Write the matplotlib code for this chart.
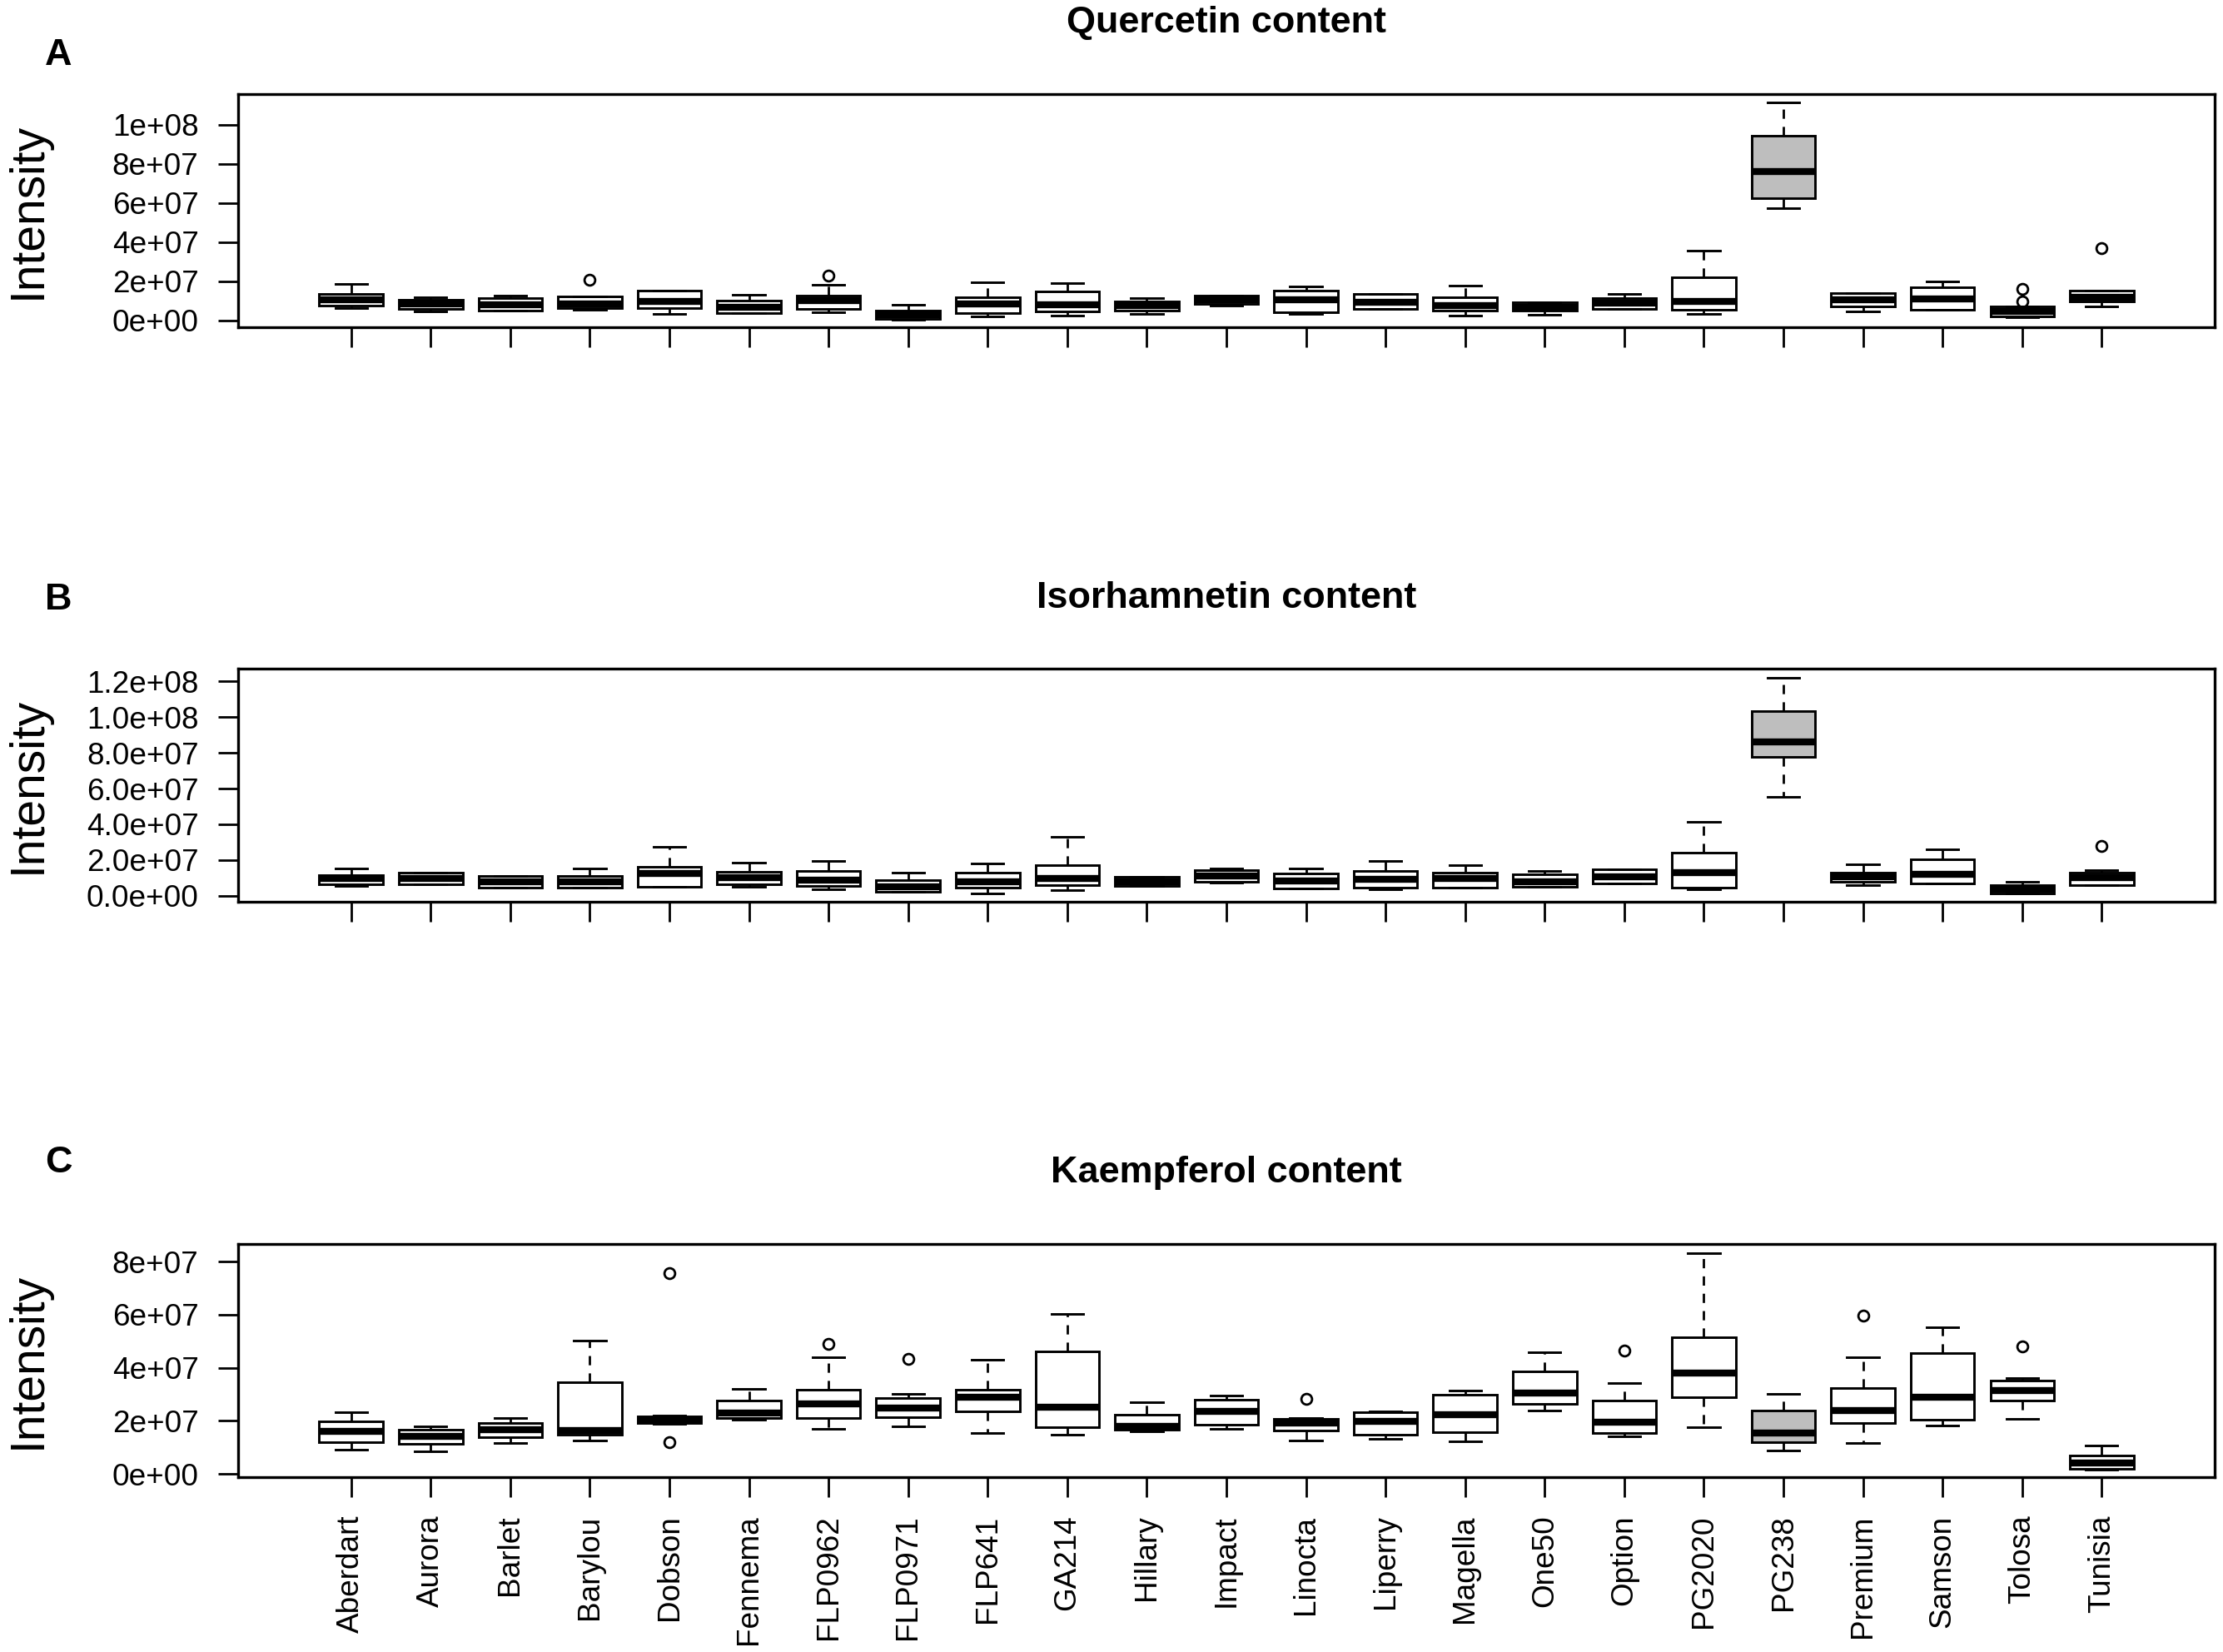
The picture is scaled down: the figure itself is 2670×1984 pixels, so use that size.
import matplotlib
matplotlib.use('Agg')
import matplotlib.pyplot as plt

plt.rcParams['font.family'] = ['Liberation Sans', 'DejaVu Sans']

# cultivars (x axis)
CULTIVARS = ['Aberdart', 'Aurora', 'Barlet', 'Barylou', 'Dobson', 'Fennema', 'FLP0962',
             'FLP0971', 'FLP641', 'GA214', 'Hillary', 'Impact', 'Linocta', 'Liperry',
             'Magella', 'One50', 'Option', 'PG2020', 'PG238', 'Premium', 'Samson',
             'Tolosa', 'Tunisia']
HIGHLIGHT = 'PG238'

# box statistics, values in units of 1e7
# Quercetin
q_lo = [0.64, 0.47, 0.52, 0.57, 0.33, 0.38, 0.43, 0.05, 0.21, 0.26, 0.33, 0.78,
        0.35, 0.61, 0.26, 0.31, 0.61, 0.35, 5.74, 0.47, 0.55, 0.18, 0.71]
q_q1 = [0.78, 0.61, 0.52, 0.64, 0.64, 0.40, 0.61, 0.07, 0.38, 0.47, 0.50, 0.85,
        0.43, 0.61, 0.50, 0.50, 0.61, 0.57, 6.24, 0.71, 0.57, 0.21, 0.99]
q_med = [1.05, 0.85, 0.80, 0.85, 0.98, 0.70, 1.00, 0.30, 0.85, 0.80, 0.75, 1.05,
         1.05, 0.95, 0.78, 0.70, 0.90, 0.98, 7.62, 1.05, 1.09, 0.45, 1.20]
q_q3 = [1.37, 1.06, 1.13, 1.25, 1.52, 1.02, 1.28, 0.52, 1.20, 1.49, 0.99, 1.28,
        1.52, 1.35, 1.18, 0.95, 1.16, 2.20, 9.43, 1.42, 1.70, 0.71, 1.53]
q_hi = [1.89, 1.20, 1.28, 1.25, 1.52, 1.32, 1.84, 0.81, 1.94, 1.91, 1.13, 1.28,
        1.73, 1.35, 1.80, 0.95, 1.35, 3.59, 11.13, 1.42, 1.99, 0.71, 1.53]
q_out = [[], [], [], [2.09], [], [], [2.30], [], [], [], [], [],
         [], [], [], [], [], [], [], [], [], [0.99, 1.63], [3.69]]

# Isorhamnetin
i_lo = [0.55, 0.65, 0.45, 0.45, 0.50, 0.50, 0.34, 0.23, 0.11, 0.30, 0.55, 0.73,
        0.42, 0.34, 0.45, 0.50, 0.70, 0.34, 5.55, 0.61, 0.70, 0.14, 0.61]
i_q1 = [0.65, 0.65, 0.45, 0.45, 0.50, 0.65, 0.55, 0.23, 0.45, 0.58, 0.55, 0.78,
        0.42, 0.45, 0.45, 0.50, 0.70, 0.45, 7.76, 0.76, 0.70, 0.14, 0.61]
i_med = [0.95, 0.95, 0.80, 0.80, 1.23, 1.00, 0.89, 0.50, 0.76, 0.97, 0.80, 1.10,
         0.81, 0.92, 0.97, 0.80, 1.05, 1.28, 8.63, 1.05, 1.20, 0.35, 1.00]
i_q3 = [1.17, 1.28, 1.12, 1.12, 1.63, 1.32, 1.38, 0.86, 1.28, 1.71, 1.04, 1.45,
        1.23, 1.38, 1.28, 1.20, 1.48, 2.40, 10.34, 1.31, 2.05, 0.61, 1.28]
i_hi = [1.51, 1.28, 1.12, 1.51, 2.72, 1.85, 1.94, 1.31, 1.79, 3.30, 1.04, 1.54,
        1.51, 1.93, 1.70, 1.38, 1.48, 4.12, 12.19, 1.74, 2.60, 0.78, 1.43]
i_out = [[], [], [], [], [], [], [], [], [], [], [], [],
         [], [], [], [], [], [], [], [], [], [], [2.78]]

# Kaempferol
k_lo = [0.92, 0.84, 1.17, 1.26, 1.88, 2.05, 1.70, 1.80, 1.55, 1.46, 1.60, 1.70,
        1.26, 1.31, 1.22, 2.37, 1.41, 1.76, 0.89, 1.15, 1.83, 2.07, 0.15]
k_q1 = [1.18, 1.13, 1.38, 1.46, 1.90, 2.10, 2.11, 2.14, 2.35, 1.76, 1.65, 1.86,
        1.62, 1.49, 1.57, 2.64, 1.55, 2.88, 1.20, 1.91, 2.04, 2.76, 0.20]
k_med = [1.59, 1.40, 1.67, 1.62, 2.05, 2.30, 2.64, 2.49, 2.88, 2.51, 1.80, 2.35,
         1.90, 1.99, 2.23, 3.03, 1.94, 3.79, 1.54, 2.37, 2.88, 3.14, 0.40]
k_q3 = [1.99, 1.67, 1.91, 3.45, 2.18, 2.77, 3.17, 2.86, 3.17, 4.60, 2.22, 2.80,
        2.07, 2.33, 2.98, 3.87, 2.75, 5.16, 2.38, 3.22, 4.55, 3.51, 0.69]
k_hi = [2.33, 1.80, 2.09, 5.02, 2.20, 3.19, 4.39, 3.01, 4.29, 6.01, 2.70, 2.96,
        2.10, 2.35, 3.14, 4.57, 3.42, 8.32, 3.01, 4.39, 5.51, 3.60, 1.07]
k_out = [[], [], [], [], [7.55, 1.20], [], [4.88], [4.34], [], [], [], [],
         [2.82], [], [], [], [4.63], [], [], [5.96], [], [4.80], []]

# titles and y ticks
TITLES = ['Quercetin content', 'Isorhamnetin content', 'Kaempferol content']
LETTERS = ['A', 'B', 'C']
TICKS_A = [0, 2e7, 4e7, 6e7, 8e7, 1e8]
LABELS_A = ['0e+00', '2e+07', '4e+07', '6e+07', '8e+07', '1e+08']
TICKS_B = [0, 2e7, 4e7, 6e7, 8e7, 1e8, 1.2e8]
LABELS_B = ['0.0e+00', '2.0e+07', '4.0e+07', '6.0e+07', '8.0e+07', '1.0e+08', '1.2e+08']
TICKS_C = [0, 2e7, 4e7, 6e7, 8e7]
LABELS_C = ['0e+00', '2e+07', '4e+07', '6e+07', '8e+07']

UNIT = 1e7
GREY = '#bebebe'

fig = plt.figure(figsize=(13.35, 9.92), dpi=200)

panels = [
    dict(rect=[0.10712, 0.80176, 0.88914, 0.14113], ylim=(-0.0355e8, 1.156e8),
         stats=(q_lo, q_q1, q_med, q_q3, q_hi, q_out), ticks=TICKS_A, labels=LABELS_A,
         title_y=0.98019, letter_y=0.96053),
    dict(rect=[0.10712, 0.45398, 0.88914, 0.14113], ylim=(-0.0355e8, 1.27e8),
         stats=(i_lo, i_q1, i_med, i_q3, i_hi, i_out), ticks=TICKS_B, labels=LABELS_B,
         title_y=0.63206, letter_y=0.63120),
    dict(rect=[0.10712, 0.10585, 0.88914, 0.14113], ylim=(-0.0125e8, 0.866e8),
         stats=(k_lo, k_q1, k_med, k_q3, k_hi, k_out), ticks=TICKS_C, labels=LABELS_C,
         title_y=0.28427, letter_y=0.29032),
]

positions = list(range(1, len(CULTIVARS) + 1))

for n, p in enumerate(panels):
    ax = fig.add_axes(p['rect'])
    lo, q1, med, q3, hi, out = p['stats']
    bstats = []
    for j in range(len(CULTIVARS)):
        bstats.append(dict(whislo=lo[j] * UNIT, q1=q1[j] * UNIT, med=med[j] * UNIT,
                           q3=q3[j] * UNIT, whishi=hi[j] * UNIT,
                           fliers=[v * UNIT for v in out[j]]))
    res = ax.bxp(bstats, positions=positions, widths=0.8, patch_artist=True,
                 manage_ticks=False,
                 boxprops=dict(linewidth=1.05, edgecolor='black'),
                 medianprops=dict(color='black', linewidth=3.0, solid_capstyle='butt'),
                 whiskerprops=dict(color='black', linewidth=1.0, linestyle=(0, (4, 3.5))),
                 capprops=dict(color='black', linewidth=1.05),
                 flierprops=dict(marker='o', markerfacecolor='none', markeredgecolor='black',
                                 markersize=4.6, markeredgewidth=1.0, linestyle='none'))
    for name, box in zip(CULTIVARS, res['boxes']):
        box.set_facecolor(GREY if name == HIGHLIGHT else 'white')

    ax.set_xlim(-0.42, 24.42)
    ax.set_ylim(*p['ylim'])
    ax.set_yticks(p['ticks'])
    ax.set_yticklabels(p['labels'])
    ax.set_xticks(positions)
    if n == 2:
        ax.set_xticklabels(CULTIVARS, rotation=90, va='top', ha='center')
    else:
        ax.set_xticklabels([])
    for s in ax.spines.values():
        s.set_linewidth(1.2)
    ax.tick_params(axis='both', direction='out', length=8.5, width=1.0, labelsize=13.3)
    ax.tick_params(axis='y', pad=8.6)
    ax.tick_params(axis='x', pad=7.9)

    cx = p['rect'][0] + p['rect'][2] / 2
    fig.text(cx, p['title_y'], TITLES[n], ha='center', va='baseline',
             fontsize=16.2, fontweight='bold')
    fig.text(0.0202, p['letter_y'], LETTERS[n], ha='left', va='baseline',
             fontsize=16.2, fontweight='bold')
    fig.text(0.0128, p['rect'][1] + p['rect'][3] / 2, 'Intensity', rotation=90,
             ha='center', va='center', fontsize=20.5)

fig.savefig('out.png', dpi=200)
